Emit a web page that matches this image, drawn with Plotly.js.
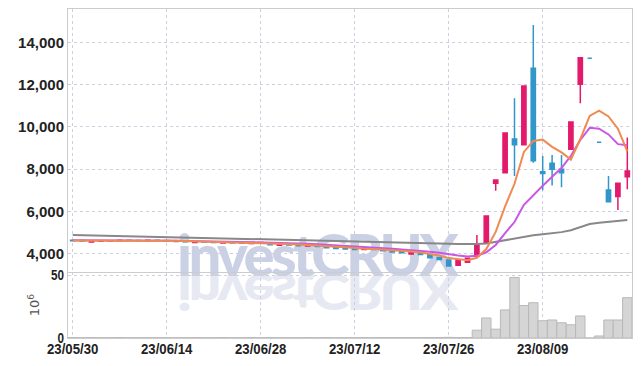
<!DOCTYPE html>
<html>
<head>
<meta charset="utf-8">
<script src="https://cdn.plot.ly/plotly-3.0.1.min.js"></script>
<style>
  html, body { margin: 0; padding: 0; background: #fff; }
  #wrap { position: relative; width: 642px; height: 366px; overflow: hidden; }
  .wm { position: absolute; left: 177px; top: 224px; font-family: Lato, "Open Sans", sans-serif; font-weight: 900;
        font-size: 58px; line-height: 60px; letter-spacing: -3.6px; white-space: nowrap; transform-origin: 0 51px; }
  #wm1 { color: #cbd1e5; }
  #wm2 { color: #e7e9f2; transform: scaleY(-0.85); }
  #chart { position: absolute; left: 0; top: 0; width: 642px; height: 366px; }
</style>
</head>
<body>
<div id="wrap">
  <div class="wm" id="wm2">investCRUX</div>
  <div class="wm" id="wm1">investCRUX</div>
  <div id="chart"></div>
</div>
<script>
const dates = ["23/05/30","23/05/31","23/06/01","23/06/02","23/06/05","23/06/07","23/06/08","23/06/09","23/06/12","23/06/13",
  "23/06/14","23/06/15","23/06/16","23/06/19","23/06/20","23/06/21","23/06/22","23/06/23","23/06/26","23/06/27",
  "23/06/28","23/06/29","23/06/30","23/07/03","23/07/04","23/07/05","23/07/06","23/07/07","23/07/10","23/07/11",
  "23/07/12","23/07/13","23/07/14","23/07/17","23/07/18","23/07/19","23/07/20","23/07/21","23/07/24","23/07/25",
  "23/07/26","23/07/27","23/07/28","23/07/31","23/08/01","23/08/02","23/08/03","23/08/04","23/08/07","23/08/08",
  "23/08/09","23/08/10","23/08/11","23/08/14","23/08/16","23/08/17","23/08/18","23/08/21","23/08/22","23/08/23"];

const open = [4640,4620,4550,4590,4600,4610,4630,4620,4610,4630,
  4620,4600,4580,4530,4570,4550,4500,4540,4510,4480,
  4500,4480,4400,4450,4420,4360,4400,4330,4290,4260,
  4230,4200,4240,4200,4150,4090,3990,4060,3960,3820,
  3700,3450,3590,3890,4520,7330,7830,9420,9150,12770,
  7880,8280,8000,8940,12010,13240,9270,7010,6700,7640];
const high = [4650,4630,4600,4610,4620,4670,4640,4630,4640,4640,
  4630,4610,4590,4580,4580,4560,4550,4550,4520,4540,
  4540,4490,4470,4460,4430,4420,4410,4340,4300,4270,
  4240,4290,4250,4210,4160,4100,4060,4070,3970,3830,
  3710,3710,3790,4885,5780,7490,9710,11350,11930,14820,
  8620,8670,8670,10230,13270,13240,9270,7675,7330,9500];
const low = [4600,4590,4540,4580,4590,4600,4610,4600,4600,4610,
  4590,4570,4550,4520,4540,4520,4490,4500,4480,4470,
  4490,4410,4390,4400,4370,4350,4330,4270,4240,4210,
  4190,4190,4190,4130,4070,4030,3980,3950,3800,3710,
  3400,3440,3580,3880,4520,6980,7830,7675,9150,8305,
  7000,7220,7140,8940,11115,13240,9270,6460,6070,7050];
const close = [4610,4600,4590,4600,4610,4630,4620,4610,4630,4620,
  4600,4580,4560,4570,4550,4530,4540,4510,4490,4530,
  4530,4420,4460,4410,4380,4410,4340,4280,4250,4220,
  4200,4240,4200,4140,4080,4040,4050,3960,3810,3720,
  3420,3700,3780,4410,5780,7490,9710,9150,11930,8400,
  7790,8000,7830,10230,13270,13240,9270,6460,7330,7910];

const ma5 = [4622,4616,4608,4604,4602,4606,4610,4614,4620,4622,
  4616,4608,4598,4586,4572,4558,4550,4540,4524,4520,
  4520,4496,4486,4470,4440,4416,4400,4364,4332,4300,
  4258,4238,4222,4200,4172,4140,4102,4054,3988,3916,
  3792,3722,3686,3806,4218,5032,6234,7308,8812,9336,
  9396,9054,8790,8450,9424,10514,10768,10494,9914,8842];
const ma10 = [4631,4626,4621,4617,4614,4614,4613,4611,4612,4612,
  4611,4609,4606,4603,4597,4587,4579,4569,4555,4546,
  4539,4523,4513,4497,4480,4468,4448,4425,4401,4370,
  4337,4319,4293,4266,4236,4199,4170,4138,4094,4044,
  3966,3912,3870,3897,4067,4412,4978,5497,6309,6777,
  7214,7644,8049,8631,9380,9955,9911,9642,9182,9133];
const ma60 = [4890,4880,4870,4860,4850,4840,4835,4825,4815,4805,
  4795,4790,4780,4770,4760,4750,4745,4735,4725,4715,
  4705,4695,4685,4675,4665,4655,4645,4635,4625,4615,
  4600,4590,4580,4565,4555,4540,4525,4510,4500,4490,
  4475,4460,4450,4455,4480,4560,4640,4720,4800,4870,
  4920,4970,5020,5110,5250,5400,5460,5500,5550,5595];

const volume = [0.3,0.2,0.3,0.2,0.2,0.3,0.2,0.2,0.2,0.2,
  0.2,0.2,0.2,0.3,0.2,0.2,0.3,0.2,0.2,0.3,
  0.2,0.3,0.2,0.2,0.2,0.3,0.2,0.3,0.2,0.2,
  0.2,0.3,0.2,0.3,0.3,0.3,0.3,0.3,0.4,0.4,
  0.5,0.4,0.4,6.2,15.9,7.0,22.3,48.1,25.8,28.0,
  13.7,14.3,12.1,10.5,17.5,0,1.6,14.3,14.3,32.0];

const priceTicks = [4000,6000,8000,10000,12000,14000];
const volTicks = [0,50];
const dateTicks = [dates[0],dates[10],dates[20],dates[30],dates[40],dates[50]];

const tickFont = {family: '"Liberation Sans", Arial, sans-serif', size: 15, color: '#222', weight: 'bold'};
const gridColor = '#cfcfe2';
const lineColor = '#cccccc';

const traces = [
  {type: 'bar', x: dates, y: volume, xaxis: 'x', yaxis: 'y',
   marker: {color: '#d5d5d5', line: {color: '#b8b8b8', width: 1}}, hoverinfo: 'skip', showlegend: false},
  {type: 'scatter', mode: 'lines', x: dates, y: ma60, xaxis: 'x2', yaxis: 'y2',
   line: {color: '#888888', width: 2}, showlegend: false},
  {type: 'candlestick', x: dates, open: open, high: high, low: low, close: close, xaxis: 'x2', yaxis: 'y2',
   increasing: {line: {color: '#e31a6c', width: 1.5}, fillcolor: '#e31a6c'},
   decreasing: {line: {color: '#3196c9', width: 1.5}, fillcolor: '#3196c9'},
   whiskerwidth: 0, showlegend: false},
  {type: 'scatter', mode: 'lines', x: dates, y: ma10, xaxis: 'x2', yaxis: 'y2',
   line: {color: '#c957e6', width: 2}, showlegend: false},
  {type: 'scatter', mode: 'lines', x: dates, y: ma5, xaxis: 'x2', yaxis: 'y2',
   line: {color: '#ef8a50', width: 2}, showlegend: false}
];

const split = (338 - 272) / 329;

const layout = {
  width: 642, height: 366,
  margin: {l: 68, r: 10, t: 9, b: 28, pad: 0},
  paper_bgcolor: 'rgba(0,0,0,0)', plot_bgcolor: 'rgba(0,0,0,0)',
  showlegend: false, bargap: 0, boxgap: 0.36,
  xaxis: {domain: [0, 1], anchor: 'y', type: 'category', range: [-0.5, dates.length - 0.5],
    tickmode: 'array', tickvals: dateTicks, ticktext: dateTicks, tickfont: tickFont, ticklabelstandoff: -3,
    showgrid: true, gridcolor: gridColor, griddash: 'dot', gridwidth: 1,
    showline: true, linecolor: lineColor, linewidth: 1, ticks: '', zeroline: false},
  xaxis2: {anchor: 'y2', matches: 'x', type: 'category', showticklabels: false,
    tickmode: 'array', tickvals: dateTicks,
    showgrid: true, gridcolor: gridColor, griddash: 'dot', gridwidth: 1,
    showline: true, mirror: true, linecolor: lineColor, linewidth: 1, ticks: '',
    rangeslider: {visible: false}},
  yaxis: {domain: [0, split], anchor: 'x', range: [0, 52.4], tickmode: 'array', tickvals: volTicks,
    tickfont: tickFont, showgrid: true, gridcolor: gridColor, griddash: 'dot', zeroline: false,
    showline: true, mirror: true, linecolor: lineColor, ticks: '',
    title: {text: '10<sup>6</sup>', font: {family: '"DejaVu Sans", sans-serif', size: 13, color: '#555', weight: 'normal'}, standoff: 4}},
  yaxis2: {domain: [split, 1], anchor: 'x2', range: [3134, 15575], tickmode: 'array', tickvals: priceTicks,
    tickformat: ',d', tickfont: tickFont, showgrid: true, gridcolor: gridColor, griddash: 'dot', zeroline: false,
    showline: true, mirror: true, linecolor: lineColor, ticks: ''}
};

Plotly.newPlot('chart', traces, layout, {displayModeBar: false, staticPlot: true}).then(function (gd) {
  // condense tick labels horizontally (reference uses a narrow face)
  gd.querySelectorAll('.xtick text, .ytick text').forEach(function (t) {
    const s = t.closest('.ytick') ? 0.78 : 0.88;
    const x = parseFloat(t.getAttribute('x') || '0');
    const tr = t.getAttribute('transform') || '';
    t.setAttribute('transform', tr + ' translate(' + x + ',0) scale(' + s + ',1) translate(' + (-x) + ',0)');
  });
});
</script>
</body>
</html>
